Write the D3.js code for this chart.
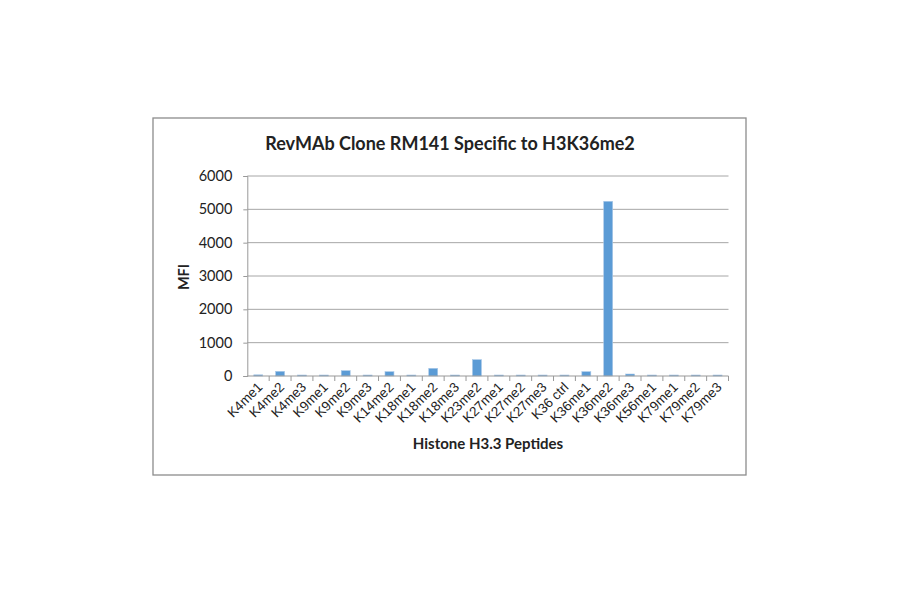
<!DOCTYPE html>
<html>
<head>
<meta charset="utf-8">
<script src="https://cdn.jsdelivr.net/npm/d3@7"></script>
<style>
  body { margin: 0; background: #fff; }
  svg { display: block; }
</style>
</head>
<body>
<div id="chart"></div>
<script>
const peptides = ["K4me1", "K4me2", "K4me3", "K9me1", "K9me2", "K9me3", "K14me2", "K18me1",
  "K18me2", "K18me3", "K23me2", "K27me1", "K27me2", "K27me3", "K36 ctrl", "K36me1",
  "K36me2", "K36me3", "K56me1", "K79me1", "K79me2", "K79me3"];
const mfi = [35, 140, 30, 30, 160, 30, 130, 30, 230, 30, 490, 30, 30, 30, 30, 130,
  5240, 60, 30, 30, 30, 30];
const yTicks = [0, 1000, 2000, 3000, 4000, 5000, 6000];

const width = 900, height = 594;
const frame = { x: 153, y: 118, w: 593, h: 357 };
const plot = { left: 247.3, right: 728.5, top: 176, bottom: 376 };

const svg = d3.select("#chart").append("svg")
  .attr("width", width)
  .attr("height", height);

// chart border
svg.append("rect")
  .attr("x", frame.x)
  .attr("y", frame.y)
  .attr("width", frame.w)
  .attr("height", frame.h)
  .attr("fill", "#fff")
  .attr("stroke", "#8c8c8c")
  .attr("stroke-width", 1.3);

const x = d3.scaleBand()
  .domain(peptides)
  .range([plot.left, plot.right])
  .paddingInner(0.59)
  .paddingOuter(0.295);

const bands = d3.scaleBand().domain(peptides).range([plot.left, plot.right]);

const y = d3.scaleLinear()
  .domain([0, 6000])
  .range([plot.bottom, plot.top]);

// gridlines
svg.append("g")
  .selectAll("line")
  .data(yTicks.filter(d => d > 0))
  .enter()
  .append("line")
  .attr("x1", plot.left)
  .attr("x2", plot.right)
  .attr("y1", d => y(d))
  .attr("y2", d => y(d))
  .attr("stroke", "#a6a6a6")
  .attr("stroke-width", 1);

// bars
svg.append("g")
  .selectAll("rect")
  .data(mfi)
  .enter()
  .append("rect")
  .attr("x", (d, i) => x(peptides[i]))
  .attr("y", d => y(d))
  .attr("width", x.bandwidth())
  .attr("height", d => y(0) - y(d))
  .attr("fill", "#5b9bd5")
  .attr("stroke", "#a9c8e8")
  .attr("stroke-width", 0.6);

// y axis
const yAxis = svg.append("g")
  .attr("transform", `translate(${plot.left},0)`)
  .call(d3.axisLeft(y).tickValues(yTicks).tickSize(4).tickPadding(11).tickFormat(d3.format("d")));
yAxis.select(".domain").attr("stroke", "#999");
yAxis.selectAll(".tick line").attr("stroke", "#999");
yAxis.selectAll(".tick text")
  .attr("font-family", "Lato, 'Liberation Sans', sans-serif")
  .attr("font-size", 14.5)
  .attr("fill", "#222");

// x axis with ticks on band edges
const xAxis = svg.append("g")
  .attr("transform", `translate(0,${plot.bottom})`);
xAxis.append("line")
  .attr("x1", plot.left)
  .attr("x2", plot.right)
  .attr("stroke", "#999");
xAxis.selectAll("line.edge")
  .data(peptides)
  .enter()
  .append("line")
  .attr("class", "edge")
  .attr("x1", d => bands(d) + bands.bandwidth())
  .attr("x2", d => bands(d) + bands.bandwidth())
  .attr("y1", 0)
  .attr("y2", 5)
  .attr("stroke", "#999");
xAxis.selectAll("text")
  .data(peptides)
  .enter()
  .append("text")
  .text(d => d)
  .attr("transform", d => `translate(${bands(d) + bands.bandwidth() / 2 + 5},${12}) rotate(-45)`)
  .attr("text-anchor", "end")
  .attr("font-family", "'Liberation Sans', Arial, sans-serif")
  .attr("font-size", 13.5)
  .attr("fill", "#222");

// title
svg.append("text")
  .text("RevMAb Clone RM141 Specific to H3K36me2")
  .attr("x", 450)
  .attr("y", 150)
  .attr("text-anchor", "middle")
  .attr("font-family", "Lato, sans-serif")
  .attr("font-weight", "bold")
  .attr("font-size", 18)
  .attr("fill", "#222");

// axis titles
svg.append("text")
  .text("Histone H3.3 Peptides")
  .attr("x", 488)
  .attr("y", 449)
  .attr("text-anchor", "middle")
  .attr("font-family", "Lato, sans-serif")
  .attr("font-weight", "bold")
  .attr("font-size", 15)
  .attr("fill", "#222");

svg.append("text")
  .text("MFI")
  .attr("transform", "translate(189,277) rotate(-90)")
  .attr("text-anchor", "middle")
  .attr("font-family", "Lato, sans-serif")
  .attr("font-weight", "bold")
  .attr("font-size", 14.5)
  .attr("fill", "#222");
</script>
</body>
</html>
